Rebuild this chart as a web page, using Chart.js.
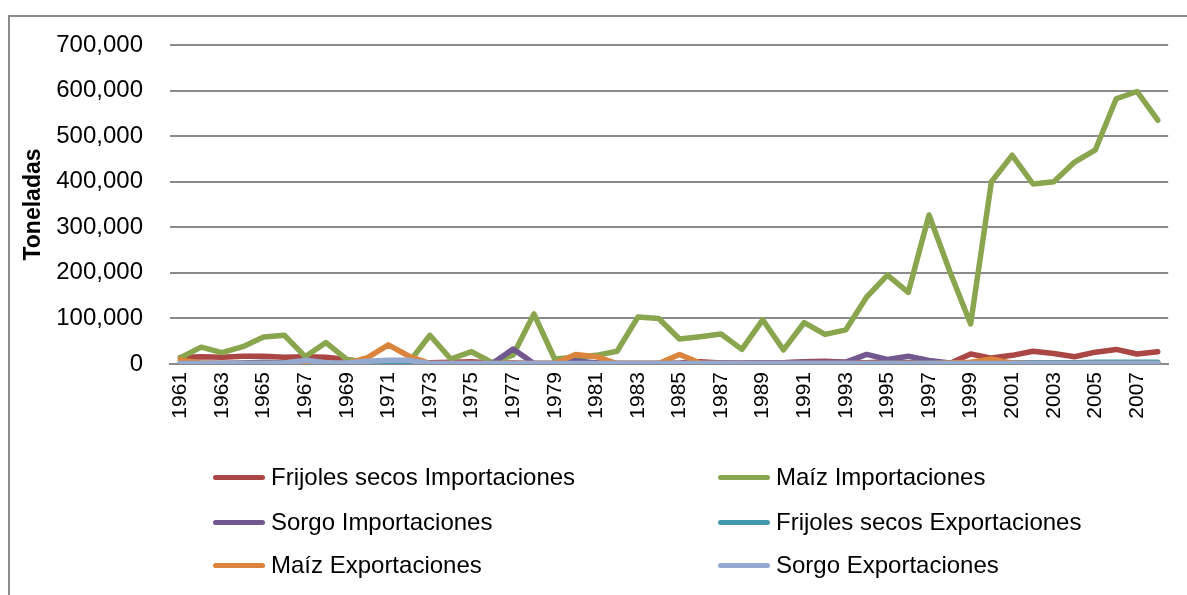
<!DOCTYPE html>
<html>
<head>
<meta charset="utf-8">
<script src="https://cdn.jsdelivr.net/npm/chart.js@4/dist/chart.umd.min.js"></script>
<style>
  body { margin: 0; background: #fff; font-family: "Liberation Sans", Arial, sans-serif; }
  #wrap { position: relative; width: 1187px; height: 595px; overflow: hidden; }
  #frame { position: absolute; left: 8px; top: 15px; width: 1300px; height: 700px;
           border-left: 2px solid #8a8a8a; border-top: 2px solid #8a8a8a; }
  #chart { position: absolute; left: 0; top: 0; }
  .item { position: absolute; height: 30px; display: flex; align-items: center;
          font-size: 24px; color: #000; white-space: nowrap; }
  .item .swatch { width: 52px; height: 5px; border-radius: 3px; margin-right: 6px; }
</style>
</head>
<body>
<div id="wrap">
  <div id="frame"></div>
  <canvas id="chart" width="1191" height="595"></canvas>
  <div id="legend"></div>
</div>
<script>
// Years on the category axis
const years = [1961, 1962, 1963, 1964, 1965, 1966, 1967, 1968, 1969, 1970,
    1971, 1972, 1973, 1974, 1975, 1976, 1977, 1978, 1979, 1980,
    1981, 1982, 1983, 1984, 1985, 1986, 1987, 1988, 1989, 1990,
    1991, 1992, 1993, 1994, 1995, 1996, 1997, 1998, 1999, 2000,
    2001, 2002, 2003, 2004, 2005, 2006, 2007, 2008];

// Tonnes per year
const frijolesImport = [14000, 16000, 15000, 17000, 17000, 15000, 16000, 15000, 10000, 3000,
    2000, 3000, 3000, 4000, 5000, 2000, 2000, 1000, 1000, 2000,
    3000, 1000, 1000, 1000, 2000, 5000, 2000, 1000, 2000, 3000,
    5000, 6000, 4000, 3000, 5000, 3000, 2000, 1000, 22000, 13000,
    19000, 28000, 23000, 16000, 26000, 32000, 22000, 27000];
const maizImport = [14000, 37000, 25000, 38000, 59000, 63000, 16000, 47000, 10000, 2000,
    1000, 4000, 63000, 11000, 27000, 3000, 20000, 110000, 11000, 15000,
    19000, 28000, 103000, 100000, 55000, 60000, 66000, 32000, 97000, 31000,
    91000, 65000, 75000, 147000, 195000, 157000, 327000, 203000, 88000, 400000,
    458000, 395000, 400000, 443000, 470000, 582000, 598000, 535000];
const sorgoImport = [1000, 1000, 1000, 2000, 4000, 2000, 1000, 1000, 1000, 1000,
    1000, 1000, 1000, 1000, 1000, 1000, 33000, 1000, 1000, 7000,
    2000, 1000, 1000, 1000, 1000, 2000, 2000, 2000, 3000, 3000,
    4000, 4000, 4000, 21000, 10000, 17000, 8000, 2000, 1000, 1000,
    1000, 1000, 1000, 1000, 1000, 1000, 1000, 1000];
const frijolesExport = [3000, 1000, 1000, 1000, 1000, 1000, 1000, 1000, 0, 0,
    0, 0, 0, 0, 0, 0, 0, 0, 0, 0,
    0, 0, 0, 0, 0, 0, 0, 0, 0, 0,
    0, 0, 0, 1000, 1000, 1000, 1000, 1000, 2000, 3000,
    3000, 3000, 3000, 3000, 4000, 4000, 4000, 4000];
const maizExport = [9000, 2000, 1000, 1000, 1000, 1000, 1000, 1000, 1000, 14000,
    42000, 17000, 1000, 1000, 1000, 1000, 1000, 1000, 1000, 21000,
    16000, 1000, 1000, 1000, 21000, 2000, 1000, 1000, 1000, 1000,
    1000, 1000, 1000, 1000, 1000, 1000, 1000, 2000, 4000, 11000,
    2000, 1000, 1000, 1000, 1000, 1000, 1000, 1000];
const sorgoExport = [1000, 1000, 1000, 1000, 1000, 2000, 8000, 3000, 2000, 6000,
    8000, 8000, 1000, 1000, 1000, 1000, 1000, 1000, 1000, 1000,
    1000, 1000, 1000, 1000, 1000, 1000, 1000, 1000, 1000, 1000,
    1000, 1000, 1000, 1000, 1000, 1000, 1000, 1000, 1000, 1000,
    1000, 1000, 1000, 1000, 1000, 1000, 1000, 1000];

const seriesNames = ['Frijoles secos Importaciones', 'Maíz Importaciones', 'Sorgo Importaciones',
    'Frijoles secos Exportaciones', 'Maíz Exportaciones', 'Sorgo Exportaciones'];
const seriesData = [frijolesImport, maizImport, sorgoImport, frijolesExport, maizExport, sorgoExport];
const seriesColors = ['#AA4643', '#89A54E', '#71588F', '#4198AF', '#DB843D', '#93A9CF'];

const ctx = document.getElementById('chart').getContext('2d');
const chart = new Chart(ctx, {
    type: 'line',
    data: {
        labels: years,
        datasets: seriesData.map((values, i) => ({
            label: seriesNames[i],
            data: values,
            borderColor: seriesColors[i],
            borderWidth: 5.5,
            pointRadius: 0,
            tension: 0,
            borderCapStyle: 'round',
            borderJoinStyle: 'round',
            order: seriesData.length - i  // later series drawn on top, like Excel
        }))
    },
    options: {
        responsive: false,
        animation: false,
        layout: { padding: { top: 45, right: 1, left: 0, bottom: 0 } },
        plugins: { legend: { display: false }, tooltip: { enabled: false } },
        scales: {
            x: {
                offset: true,
                afterFit: s => { s.height = 231; },
                grid: { display: false, drawTicks: false, offset: true },
                border: { color: '#8a8a8a', width: 2 },
                ticks: {
                    autoSkip: false,
                    minRotation: 90,
                    maxRotation: 90,
                    padding: 8,
                    color: '#000',
                    font: { family: 'Liberation Sans', size: 21 },
                    callback: function(value, index) {
                        return index % 2 === 0 ? this.getLabelForValue(value) : '';
                    }
                }
            },
            y: {
                min: 0,
                max: 700000,
                afterFit: s => { s.width = 170; },
                border: { display: false },
                grid: { color: '#8a8a8a', lineWidth: 2, drawTicks: false },
                ticks: {
                    stepSize: 100000,
                    padding: 27,
                    color: '#000',
                    font: { family: 'Liberation Sans', size: 24 },
                    callback: v => v.toLocaleString('en-US')
                },
                title: {
                    display: true,
                    text: 'Toneladas',
                    color: '#000',
                    font: { family: 'Liberation Sans', size: 23, weight: 'bold' },
                    padding: { top: 20, bottom: 0 }
                }
            }
        }
    }
});

// Two-column legend below the plot, as in the original
const legendPos = [[213, 462], [718, 462], [213, 507], [718, 507], [213, 550], [718, 550]];
const legend = document.getElementById('legend');
seriesNames.forEach((name, i) => {
    const item = document.createElement('div');
    item.className = 'item';
    item.style.left = legendPos[i][0] + 'px';
    item.style.top = legendPos[i][1] + 'px';
    item.innerHTML = `<span class="swatch" style="background:${seriesColors[i]}"></span><span>${name}</span>`;
    legend.appendChild(item);
});
</script>
</body>
</html>
